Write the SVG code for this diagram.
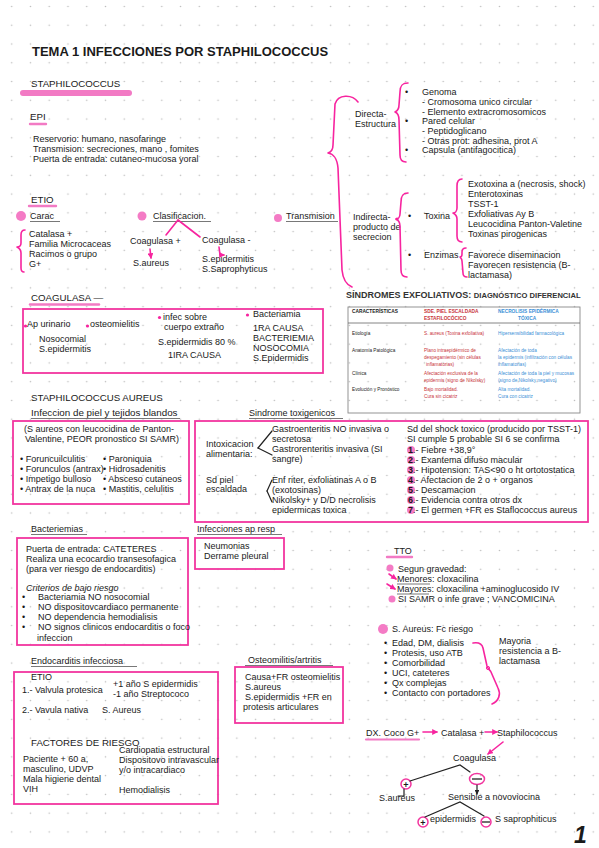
<svg xmlns="http://www.w3.org/2000/svg" width="599" height="848" viewBox="0 0 599 848">
<defs>
<pattern id="grid" patternUnits="userSpaceOnUse" x="2.32" y="34.62" width="18.76" height="18.76">
<circle cx="9.38" cy="9.38" r="0.8" fill="#bdbdbd"/>
</pattern>
<marker id="pa" viewBox="0 0 6 6" refX="5" refY="3" markerWidth="3.6" markerHeight="3.6" orient="auto"><path d="M0,0 L6,3 L0,6 z" fill="#f7249f"/></marker>
<marker id="ba" viewBox="0 0 6 6" refX="5" refY="3" markerWidth="4" markerHeight="4" orient="auto"><path d="M0,0 L6,3 L0,6 z" fill="#222"/></marker>
</defs>
<style>
svg { font-family: "Liberation Sans", Arial, sans-serif; font-size: 9px; fill: #1a1a1a; }
.h { font-size: 9.7px; }
.t { font-size: 13px; font-weight: bold; }
.box { fill: none; stroke: #f2359f; stroke-width: 1.8; }
.br { fill: none; stroke: #f7249f; stroke-width: 1.6; stroke-linecap: round; stroke-linejoin: round; }
.hl { stroke: #f27ac4; stroke-linecap: round; fill: none; }
.ul { stroke: #555; stroke-width: 0.8; }
.dot { fill: #f47bc5; }
.ln { stroke: #222; stroke-width: 1.2; fill: none; stroke-linecap: round; }
.tb { font-size: 4.7px; }
.tbh { font-size: 4.8px; font-weight: bold; }
.red { fill: #c8333a; }
.blue { fill: #3b8fd6; }
.num { font-weight: bold; }
</style>
<rect width="599" height="848" fill="#ffffff"/>
<rect width="599" height="848" fill="url(#grid)"/>

<g id="title">
<text class="t" x="32" y="56">TEMA 1 INFECCIONES POR STAPHILOCOCCUS</text>
</g>

<g id="staphilococcus">
<line class="hl" x1="23" y1="93" x2="129" y2="93" stroke-width="6"/>
<text class="h" x="31" y="87">STAPHILOCOCCUS</text>
</g>

<g id="epi">
<line class="hl" x1="30" y1="124" x2="46" y2="124" stroke-width="2.4"/>
<text class="h" x="30" y="120">EPI</text>
<text x="33" y="142">Reservorio: humano, nasofaringe</text>
<text x="33" y="152">Transmision: secreciones, mano , fomites</text>
<text x="33" y="162">Puerta de entrada: cutaneo-mucosa yoral</text>
</g>

<g id="directa">
<text x="355" y="117">Directa-</text>
<text x="355" y="127">Estructura</text>
<text x="405" y="95">•</text>
<text x="405" y="124">•</text>
<text x="405" y="153">•</text>
<text x="422" y="95">Genoma</text>
<text x="422" y="105">- Cromosoma unico circular</text>
<text x="422" y="114.5">- Elemento extracromosomicos</text>
<text x="422" y="124">Pared celular</text>
<text x="422" y="134">- Peptidoglicano</text>
<text x="422" y="143.5">- Otras prot: adhesina, prot A</text>
<text x="422" y="153">Capsula (antifagocitica)</text>
</g>

<g id="indirecta">
<text x="353" y="220">Indirecta-</text>
<text x="353" y="230">producto de</text>
<text x="353" y="240">secrecion</text>
<circle cx="397" cy="219" r="1.6" fill="#f7249f"/>
<text x="408" y="219">•</text>
<text x="424" y="219">Toxina</text>
<text x="468" y="187">Exotoxina a (necrosis, shock)</text>
<text x="468" y="197">Enterotoxinas</text>
<text x="468" y="207">TSST-1</text>
<text x="468" y="217">Exfoliativas Ay B</text>
<text x="468" y="227">Leucocidina Panton-Valetine</text>
<text x="468" y="237">Toxinas pirogenicas</text>
<text x="408" y="258">•</text>
<text x="424" y="258">Enzimas</text>
<text x="468" y="258">Favorece diseminacion</text>
<text x="468" y="268">Favorecen resistencia (B-</text>
<text x="468" y="278">lactamasa)</text>
</g>

<g id="etio">
<line class="hl" x1="29" y1="206" x2="56" y2="206" stroke-width="2.4"/>
<text class="h" x="31" y="203">ETIO</text>
<circle class="dot" cx="21" cy="216" r="5"/>
<text x="30" y="219">Carac</text>
<line class="ul" x1="30" y1="221.5" x2="60" y2="221.5"/>
<circle class="dot" cx="142" cy="216" r="4.5"/>
<text x="153" y="219">Clasificacion.</text>
<line class="ul" x1="153" y1="221.5" x2="211" y2="221.5"/>
<circle class="dot" cx="278" cy="218" r="4"/>
<text x="286" y="219">Transmision</text>
<line class="ul" x1="286" y1="221.5" x2="338" y2="221.5"/>
<text x="29" y="237">Catalasa +</text>
<text x="29" y="247">Familia Microcaceas</text>
<text x="29" y="257">Racimos o grupo</text>
<text x="29" y="267">G+</text>
<text x="130" y="244">Coagulasa +</text>
<text x="133" y="266">S.aureus</text>
<text x="202" y="243">Coagulasa -</text>
<text x="202" y="262">S.epidermitis</text>
<text x="202" y="272">S.Saprophyticus</text>
</g>

<g id="coagulasa">
<line class="hl" x1="30" y1="304.5" x2="99" y2="304.5" stroke-width="2.4"/>
<text class="h" x="31" y="301">COAGULASA —</text>
<rect class="box" x="23" y="309" width="300" height="64"/>
<circle cx="25.5" cy="326" r="1.6" fill="#f7249f"/>
<text x="27" y="327">Ap urinario</text>
<circle cx="87.5" cy="326" r="1.6" fill="#f7249f"/>
<text x="90" y="327">osteomielitis</text>
<text x="39" y="342">Nosocomial</text>
<text x="39" y="352">S.epidermitis</text>
<circle cx="159.5" cy="317.5" r="1.6" fill="#f7249f"/>
<text x="163" y="320">infec sobre</text>
<text x="164" y="330">cuerpo extraño</text>
<text x="158" y="345">S.epidermidis 80 %</text>
<text x="168" y="358">1IRA CAUSA</text>
<circle cx="247.5" cy="315" r="1.6" fill="#f7249f"/>
<text x="253" y="317">Bacteriamia</text>
<text x="253" y="331">1RA CAUSA</text>
<text x="253" y="341">BACTERIEMIA</text>
<text x="253" y="351">NOSOCOMIA</text>
<text x="253" y="361">S.Epidermidis</text>
</g>

<g id="table">
<text x="346" y="298" font-weight="bold" font-size="9" fill="#333">SÍNDROMES EXFOLIATIVOS: <tspan font-size="7.6">DIAGNÓSTICO DIFERENCIAL</tspan></text>
<rect x="348" y="307" width="232" height="106" fill="none" stroke="#888" stroke-width="0.9"/>
<line x1="348" y1="323" x2="580" y2="323" stroke="#666" stroke-width="0.8"/>
<text class="tbh" x="352" y="313">CARACTERÍSTICAS</text>
<text class="tbh red" x="424" y="313">SDE. PIEL ESCALDADA</text>
<text class="tbh red" x="424" y="320">ESTAFILOCÓCICO</text>
<text class="tbh blue" x="498" y="313">NECROLISIS EPIDÉRMICA</text>
<text class="tbh blue" x="518" y="320">TÓXICA</text>
<text class="tb" x="352" y="335">Etiología</text>
<text class="tb red" x="424" y="335">S. aureus (Toxina exfoliativa)</text>
<text class="tb blue" x="498" y="335">Hipersensibilidad farmacológica</text>
<text class="tb" x="352" y="352">Anatomía Patológica</text>
<text class="tb red" x="424" y="352">Plano intraepidérmico de</text>
<text class="tb red" x="424" y="359">despegamiento (sin células</text>
<text class="tb red" x="426" y="366">inflamatorias)</text>
<text class="tb blue" x="498" y="352">Afectación de toda</text>
<text class="tb blue" x="498" y="359">la epidermis (infiltración con células</text>
<text class="tb blue" x="498" y="366">inflamatorias)</text>
<text class="tb" x="352" y="375">Clínica</text>
<text class="tb red" x="424" y="375">Afectación exclusiva de la</text>
<text class="tb red" x="424" y="382">epidermis (signo de Nikolsky)</text>
<text class="tb blue" x="498" y="375">Afectación de toda la piel y mucosas</text>
<text class="tb blue" x="498" y="382">(signo de Nikolsky negativo)</text>
<text class="tb" x="352" y="391">Evolución y Pronóstico</text>
<text class="tb red" x="424" y="391">Bajo mortalidad.</text>
<text class="tb red" x="424" y="398">Cura sin cicatriz</text>
<text class="tb blue" x="498" y="391">Alta mortalidad.</text>
<text class="tb blue" x="498" y="398">Cura con cicatriz</text>
</g>

<g id="aureus-piel">
<text class="h" x="31" y="401">STAPHILOCOCCUS AUREUS</text>
<text x="31" y="416" font-size="9.8">Infeccion de piel y tejidos blandos</text>
<line class="ul" x1="31" y1="418.5" x2="180" y2="418.5"/>
<rect class="box" x="13" y="421" width="176" height="83"/>
<text x="24" y="432">(S aureos con leucocidina de Panton-</text>
<text x="25" y="442">Valentine, PEOR pronostico SI SAMR)</text>
<text x="20" y="462">• Foruncuilculitis</text>
<text x="20" y="472">• Forunculos (antrax)</text>
<text x="20" y="482">• Impetigo bulloso</text>
<text x="20" y="492">• Antrax de la nuca</text>
<text x="103" y="462">• Paroniquia</text>
<text x="103" y="472">• Hidrosadenitis</text>
<text x="103" y="482">• Absceso cutaneos</text>
<text x="103" y="492">• Mastitis, celulitis</text>
</g>

<g id="toxigenicos">
<text x="249" y="416">Sindrome toxigenicos</text>
<line class="ul" x1="249" y1="418.5" x2="343" y2="418.5"/>
<rect class="box" x="195" y="421" width="393" height="101"/>
<text x="206" y="447">Intoxicacion</text>
<text x="206" y="457">alimentaria:</text>
<text x="272" y="432">Gastroenteritis NO invasiva o</text>
<text x="272" y="442">secretosa</text>
<text x="272" y="452">Gastrorenteritis invasiva (SI</text>
<text x="272" y="462">sangre)</text>
<text x="206" y="483">Sd piel</text>
<text x="206" y="492">escaldada</text>
<text x="272" y="483">Enf riter, exfoliatinas A o B</text>
<text x="272" y="493">(exotosinas)</text>
<text x="272" y="503">Nikolsky+ y D/D necrolisis</text>
<text x="272" y="513">epidermicas toxica</text>
<text x="407" y="432">Sd del shock toxico (producido por TSST-1)</text>
<text x="407" y="442">SI cumple 5 probable SI 6 se confirma</text>
<circle class="dot" cx="411" cy="450" r="4"/>
<circle class="dot" cx="411" cy="460" r="4"/>
<circle class="dot" cx="411" cy="470" r="4"/>
<circle class="dot" cx="411" cy="480" r="4"/>
<circle class="dot" cx="411" cy="490" r="4"/>
<circle class="dot" cx="411" cy="500" r="4"/>
<circle class="dot" cx="411" cy="510" r="4"/>
<text x="408" y="453"><tspan class="num">1</tspan>.- Fiebre +38,9°</text>
<text x="408" y="463"><tspan class="num">2</tspan>.- Exantema difuso macular</text>
<text x="408" y="473"><tspan class="num">3</tspan>.- Hipotension: TAS&lt;90 o ht ortotostatica</text>
<text x="408" y="483"><tspan class="num">4</tspan>.- Afectacion de 2 o + organos</text>
<text x="408" y="493"><tspan class="num">5</tspan>.- Descamacion</text>
<text x="408" y="503"><tspan class="num">6</tspan>.- Evidencia contra otros dx</text>
<text x="408" y="513"><tspan class="num">7</tspan>.- El germen +FR es Staflococcus aureus</text>
</g>

<g id="bacteriemias">
<text x="31" y="532">Bacteriemias</text>
<line class="ul" x1="31" y1="534.5" x2="87" y2="534.5"/>
<rect class="box" x="17" y="538" width="171" height="107"/>
<text x="26" y="552">Puerta de entrada: CATETERES</text>
<text x="26" y="562">Realiza una ecocardio transesofagica</text>
<text x="26" y="572">(para ver riesgo de endocarditis)</text>
<text x="26" y="591" font-style="italic">Criterios de bajo riesgo</text>
<text x="22" y="600">•</text>
<text x="22" y="610">•</text>
<text x="22" y="620">•</text>
<text x="22" y="630">•</text>
<text x="38" y="600">Bacteriamia NO nosocomial</text>
<text x="38" y="610">NO dispositovcardiaco permanente</text>
<text x="38" y="620">NO dependencia hemodialisis</text>
<text x="38" y="630">NO signos clinicos endocarditis o foco</text>
<text x="37" y="641">infeccion</text>
</g>

<g id="resp">
<text x="197" y="532">Infecciones ap resp</text>
<line class="ul" x1="197" y1="534.5" x2="282" y2="534.5"/>
<rect class="box" x="195" y="538" width="89" height="31"/>
<text x="204" y="549">Neumonias</text>
<text x="204" y="559">Derrame pleural</text>
</g>

<g id="tto">
<line class="hl" x1="387" y1="557" x2="412" y2="557" stroke-width="2.4"/>
<text x="394" y="554">TTO</text>
<circle class="dot" cx="390" cy="568" r="3.5"/>
<text x="398" y="572">Segun gravedad:</text>
<text x="397" y="582">Menores: cloxacilina</text>
<line class="ul" x1="397" y1="584" x2="430" y2="584"/>
<text x="397" y="592">Mayores: cloxacilina +aminoglucosido IV</text>
<line class="ul" x1="397" y1="594" x2="429" y2="594"/>
<circle class="dot" cx="392" cy="599" r="3.5"/>
<text x="398" y="602">SI SAMR o infe grave ; VANCOMICINA</text>
</g>

<g id="factores-riesgo">
<circle class="dot" cx="383" cy="629" r="5"/>
<text x="392" y="632">S. Aureus: Fc riesgo</text>
<text x="384" y="646">•</text>
<text x="384" y="656">•</text>
<text x="384" y="666">•</text>
<text x="384" y="676">•</text>
<text x="384" y="686">•</text>
<text x="384" y="696">•</text>
<text x="392" y="646">Edad, DM, dialisis</text>
<text x="392" y="656">Protesis, uso ATB</text>
<text x="392" y="666">Comorbilidad</text>
<text x="392" y="676">UCI, cateteres</text>
<text x="392" y="686">Qx complejas</text>
<text x="392" y="696">Contacto con portadores</text>
<text x="499" y="644">Mayoria</text>
<text x="499" y="654">resistencia a B-</text>
<text x="499" y="664">lactamasa</text>
</g>

<g id="endocarditis">
<text x="31" y="664">Endocarditis infecciosa</text>
<line class="ul" x1="31" y1="666.5" x2="137" y2="666.5"/>
<rect class="box" x="14" y="672" width="204" height="132"/>
<text x="31" y="680">ETIO</text>
<text x="22" y="693">1.- Valvula protesica</text>
<text x="113" y="687">+1 año S epidermidis</text>
<text x="113" y="697">-1 año Streptococo</text>
<text x="22" y="713">2.- Vavula nativa</text>
<text x="102" y="713">S. Aureus</text>
<text class="h" x="31" y="746">FACTORES DE RIESGO</text>
<text x="119" y="753">Cardiopatia estructural</text>
<text x="119" y="763">Dispositovo intravascular</text>
<text x="119" y="773">y/o intracardiaco</text>
<text x="23" y="762">Paciente + 60 a,</text>
<text x="23" y="772">masculino, UDVP</text>
<text x="23" y="782">Mala higiene dental</text>
<text x="23" y="792">VIH</text>
<text x="119" y="793">Hemodialisis</text>
</g>

<g id="osteomielitis">
<text x="248" y="663">Osteomilitis/artritis</text>
<line class="ul" x1="245" y1="665.5" x2="333" y2="665.5"/>
<rect class="box" x="235" y="667" width="108" height="56"/>
<text x="245" y="680">Causa+FR osteomielitis</text>
<text x="245" y="690">S.aureus</text>
<text x="245" y="700">S.epidermidis +FR en</text>
<text x="243" y="710">protesis articulares</text>
</g>

<g id="dx">
<line class="hl" x1="366" y1="739.5" x2="419" y2="739.5" stroke-width="2.2"/>
<text x="366" y="736">DX. Coco G+</text>
<text x="441" y="736">Catalasa +</text>
<text x="497" y="736">Staphilococcus</text>
<text x="453" y="761">Coagulasa</text>
<circle cx="406" cy="784" r="5" fill="none" stroke="#f2359f" stroke-width="1.5"/>
<text x="406" y="787.5" text-anchor="middle" font-weight="bold">+</text>
<ellipse cx="477" cy="779" rx="7.5" ry="5.5" fill="none" stroke="#f2359f" stroke-width="1.5"/>
<line x1="472" y1="779" x2="482" y2="779" stroke="#222" stroke-width="1.3"/>
<text x="379" y="801">S.aureus</text>
<text x="448" y="800">Sensible a novoviocina</text>
<circle cx="423" cy="822" r="5" fill="none" stroke="#f2359f" stroke-width="1.5"/>
<text x="423" y="825.5" text-anchor="middle" font-weight="bold">+</text>
<text x="430" y="822">epidermidis</text>
<circle cx="486" cy="822" r="5" fill="none" stroke="#f2359f" stroke-width="1.5"/>
<line x1="482" y1="822" x2="490" y2="822" stroke="#222" stroke-width="1.3"/>
<text x="495" y="822">S saprophiticus</text>
<text x="574" y="843" font-size="23" font-weight="bold" font-style="italic">1</text>
</g>

<g id="connectors">
<path class="br" d="M358,102 C352,94 338,94 335,104 L333,145 C333,150 331,152 328,153 C334,154 337,158 338,168 L342,270 C343,280 347,285 352,287"/>
<path class="br" d="M408,83 C401,83 400,87 400,92 L399,105 C399,109 397,111 395,112 C398,113 399,116 399,120 L400,155 C400,160 402,162 406,162"/>
<path class="br" d="M408,193 C402,193 401,197 401,202 L400,214 C400,217 398,219 396,219 C398,220 400,222 400,226 L401,270 C401,275 403,277 407,277"/>
<path class="br" d="M462,179 C458,179 457,182 457,186 L457,208 C457,211 455,213 453,213 C455,214 457,216 457,219 L457,236 C457,240 459,242 462,242"/>
<path class="br" d="M466,248 C463,248 462,250 462,252 L462,254 C462,256 461,257 460,257 C461,258 462,259 462,261 L463,273 C463,276 465,277 467,277"/>
<path class="br" d="M25,230 C22,230 21,232 21,235 L21,243 C21,246 19,247 17,247 C19,248 21,250 21,253 L21,268 C21,271 22,272 24,272"/>
<path class="br" d="M473,643 C479,642 482,644 483,648 L487,666 C488,669 490,670 491,672 L498,688 C501,694 499,701 492,704"/>
<circle cx="488" cy="668" r="1.6" fill="none" stroke="#f7249f" stroke-width="1"/>
<line class="br" x1="178" y1="220" x2="166" y2="235"/>
<line class="br" x1="178" y1="220" x2="200" y2="237"/>
<path class="br" d="M150,249 L151,258" marker-end="url(#pa)"/>
<path class="br" d="M219,247 L220,255 L224,255" marker-end="url(#pa)"/>
<path class="br" d="M389,574 L396,579" marker-end="url(#pa)"/>
<path class="br" d="M387,584 L395,589" marker-end="url(#pa)"/>
<path class="br" d="M423,732 L437,732" marker-end="url(#pa)"/>
<path class="br" d="M485,732 L497,732" marker-end="url(#pa)"/>
<path class="br" d="M503,742 L488,754" marker-end="url(#pa)"/>
<polyline class="ln" points="258,448 272,431"/>
<polyline class="ln" points="258,448 272,455"/>
<polyline class="ln" points="267,491 272,480"/>
<polyline class="ln" points="267,491 272,502"/>
<polyline class="ln" points="410,781 460,765 470,772"/>
<path class="ln" d="M404,789 L404,796 L398,796"/>
<path class="ln" d="M477,785 L477,794" marker-end="url(#ba)"/>
<polyline class="ln" points="425,817 460,802 484,816"/>
</g>
</svg>
